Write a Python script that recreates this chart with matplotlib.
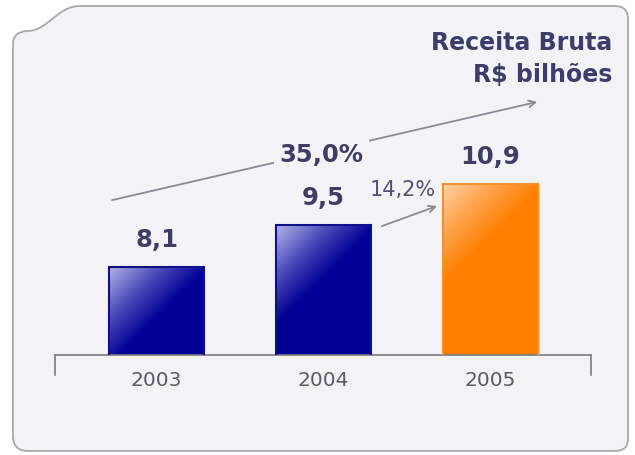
import numpy as np
import matplotlib
matplotlib.use('Agg')
import matplotlib.pyplot as plt
from matplotlib.path import Path
from matplotlib.patches import PathPatch
from matplotlib.colors import LinearSegmentedColormap

years = ['2003', '2004', '2005']
values = [8.1, 9.5, 10.9]
value_labels = ['8,1', '9,5', '10,9']
growth_total = '35,0%'
growth_last = '14,2%'
title_lines = ['Receita Bruta', 'R$ bilhões']

W, H = 635, 456
fig = plt.figure(figsize=(W / 100, H / 100), dpi=100)
fig.patch.set_facecolor('white')

# background frame (figure pixel coords, y from top)
bg = fig.add_axes([0, 0, 1, 1])
bg.set_xlim(0, W)
bg.set_ylim(H, 0)
bg.axis('off')
verts = [(80, 7), (615, 7), (628, 7), (628, 20), (628, 440), (628, 452), (615, 452),
         (28, 452), (13, 452), (13, 437), (13, 45),
         (13, 33), (27, 32), (48, 32), (57, 7), (80, 7), (80, 7)]
codes = [Path.MOVETO, Path.LINETO, Path.CURVE3, Path.CURVE3, Path.LINETO, Path.CURVE3, Path.CURVE3,
         Path.LINETO, Path.CURVE3, Path.CURVE3, Path.LINETO,
         Path.CURVE3, Path.CURVE3, Path.CURVE4, Path.CURVE4, Path.CURVE4, Path.CLOSEPOLY]
frame = PathPatch(Path(verts, codes), facecolor='#f3f3f6', edgecolor='#a8a8ac', lw=1.3)
bg.add_patch(frame)

# data axes: baseline at y=356px, x span 55..591px
x0, x1 = 55, 591
base = 356
top = 60
ax = fig.add_axes([x0 / W, (H - base) / H, (x1 - x0) / W, (base - top) / H])
ax.patch.set_alpha(0)
ymin = 5.1
scale = 29.5  # px per unit

x = np.arange(len(years))
colors_edge = ['#10108a', '#10108a', '#f59030']
blue = LinearSegmentedColormap.from_list('b', ['#b4b4e6', '#5050bc', '#000096', '#000096'])
orange = LinearSegmentedColormap.from_list('o', ['#ffd2a4', '#ffa550', '#ff8000', '#ff8000'])
cmaps = [blue, blue, orange]
bars = ax.bar(x, values, width=0.57, bottom=0, color='none', edgecolor=colors_edge, lw=1.5, zorder=3)
for b, cm, v in zip(bars, cmaps, values):
    bx, bw = b.get_x(), b.get_width()
    hpx = (v - ymin) * scale
    wpx = 95
    U, V = np.meshgrid(np.linspace(0, 1, 100), np.linspace(0, 1, 100))
    t = np.clip((U * wpx + V * hpx) / 150.0, 0, 1)
    im = ax.imshow(t, extent=[bx, bx + bw, ymin, v], origin='upper', aspect='auto',
                   cmap=cm, vmin=0, vmax=1, zorder=2)
    im.set_clip_path(b)
ax.set_ylim(ymin, ymin + (base - top) / scale)
ax.set_xlim(-0.608, 2.602)

for xi, v, lab in zip(x, values, value_labels):
    ax.annotate(lab, (xi, v), xytext=(0, 20), textcoords='offset points', ha='center', va='center',
                fontsize=17.5, fontweight='bold', color='#3d3d66', zorder=5)

for s in ['top', 'left', 'right']:
    ax.spines[s].set_visible(False)
ax.spines['bottom'].set_color('#7a7a80')
ax.spines['bottom'].set_linewidth(1.2)
ax.set_yticks([])
ax.set_xticks(x)
ax.set_xticklabels(years, fontsize=14.5, color='#5a5a68')
ax.tick_params(axis='x', length=0, pad=11)
tick_h = 20 / (base - top)
for xe in [0, 1]:
    ax.plot([xe, xe], [0, -tick_h], transform=ax.transAxes, color='#7a7a80', lw=1.2, clip_on=False)

# growth arrows
arrow_kw = dict(arrowstyle='->', color='#8a8a96', lw=1.3, shrinkA=0, shrinkB=0, mutation_scale=12)
ax.annotate('', xy=(2.28, values[2] + 2.78), xytext=(-0.266, values[0] + 2.25), arrowprops=arrow_kw, zorder=4)
ax.text(0.99, values[0] + 3.81, growth_total, ha='center', va='center', fontsize=17.5, fontweight='bold',
        color='#3d3d66', zorder=5, bbox=dict(facecolor='#f3f3f6', edgecolor='none', pad=4))
ax.annotate('', xy=(1.68, values[1] + 0.65), xytext=(1.35, values[1] - 0.03), arrowprops=arrow_kw, zorder=4)
ax.text(1.476, values[1] + 1.23, growth_last, ha='center', va='center', fontsize=15, color='#505078', zorder=5)

fig.text(612 / W, 1 - 43 / H, title_lines[0], ha='right', va='center', fontsize=17,
         fontweight='bold', color='#3d3d6b')
fig.text(612 / W, 1 - 75 / H, title_lines[1], ha='right', va='center', fontsize=17,
         fontweight='bold', color='#3d3d6b')

fig.savefig('out.png', dpi=100)
